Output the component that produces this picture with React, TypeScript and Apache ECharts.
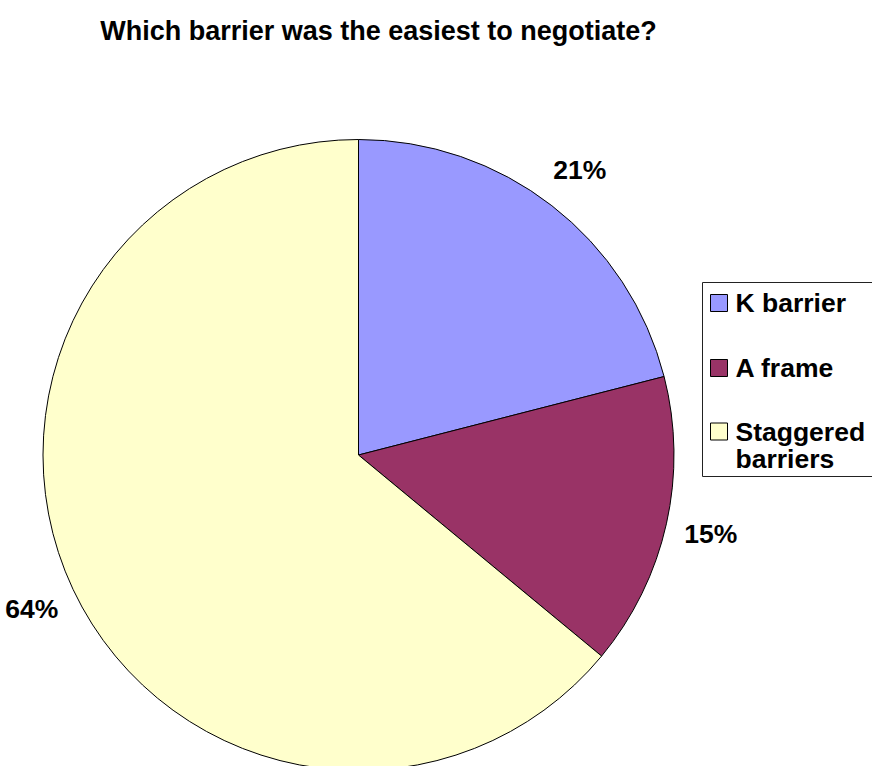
import React, { useEffect, useRef } from "react";
import * as echarts from "echarts";

const titleText = "Which barrier was the easiest to negotiate?";
const categories = ["K barrier", "A frame", "Staggered barriers"];
const values = [21, 15, 64];
const colors = ["#9999FF", "#993366", "#FFFFCC"];

const FONT = '"Liberation Sans", Arial, Helvetica, sans-serif';

export default function App() {
  const ref = useRef<HTMLDivElement>(null);
  useEffect(() => {
    document.body.style.margin = "0";
    if (!ref.current) return;
    const chart = echarts.init(ref.current, null, { renderer: "svg" });
    const data = categories.map((name, i) => ({
      name,
      value: values[i],
      itemStyle: { color: colors[i] },
    }));
    const legendText = {
      fontFamily: FONT,
      fontSize: 26.5,
      fontWeight: "bold" as const,
      color: "#000",
      lineHeight: 27,
      padding: [0, 0, 0, 3],
    };
    const legendCommon = {
      orient: "vertical" as const,
      left: 710,
      padding: 0,
      itemWidth: 17,
      itemHeight: 17,
      icon: "rect",
      itemStyle: { borderColor: "#000", borderWidth: 1 },
      textStyle: legendText,
    };
    chart.setOption({
      animation: false,
      backgroundColor: "#fff",
      title: {
        text: titleText,
        left: 373.5,
        top: 25.5,
        textAlign: "center",
        textVerticalAlign: "middle",
        textStyle: { fontFamily: FONT, fontSize: 27, fontWeight: "bold", color: "#000" },
      },
      graphic: [
        {
          type: "rect",
          silent: true,
          shape: { x: 702.5, y: 282.5, width: 200, height: 194 },
          style: { fill: "none", stroke: "#222", lineWidth: 1 },
        },
      ],
      legend: [
        {
          ...legendCommon,
          data: ["K barrier", "A frame"],
          top: 289.5,
          itemGap: 38,
        },
        {
          ...legendCommon,
          data: ["Staggered barriers"],
          top: 391,
          formatter: () => "\nStaggered\nbarriers",
        },
      ],
      series: [
        {
          type: "pie",
          center: [358.5, 455],
          radius: 315.5,
          startAngle: 90,
          clockwise: true,
          label: { show: false },
          labelLine: { show: false },
          itemStyle: { borderColor: "#000", borderWidth: 1 },
          emphasis: { disabled: true },
          data,
        },
        {
          type: "pie",
          center: [358.5, 455],
          radius: [340, 376],
          startAngle: 90,
          clockwise: true,
          silent: true,
          percentPrecision: 0,
          itemStyle: { color: "transparent", borderWidth: 0 },
          emphasis: { disabled: true },
          label: {
            show: true,
            position: "inside",
            formatter: "{d}%",
            fontFamily: FONT,
            fontSize: 26.5,
            fontWeight: "bold",
            color: "#000",
          },
          labelLine: { show: false },
          data: categories.map((name, i) => ({ name, value: values[i] })),
        },
      ],
    });
    return () => chart.dispose();
  }, []);
  return <div ref={ref} style={{ width: 872, height: 766 }} />;
}
